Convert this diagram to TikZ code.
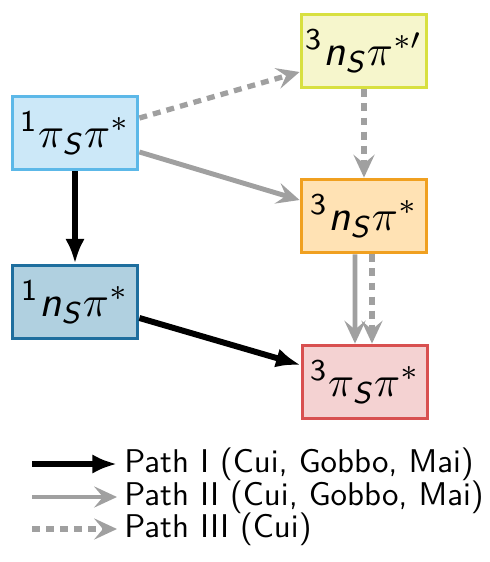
\documentclass[tikz,border=0pt]{standalone}
\usepackage{amsmath}
\usepackage{graphicx}
\usepackage{tikz}
\usetikzlibrary{arrows.meta, positioning}

\definecolor{bluelight}{HTML}{CCE8F8}
\definecolor{bluelightedge}{HTML}{5CB8E8}
\definecolor{bluedark}{HTML}{B0D0E0}
\definecolor{bluedarkedge}{HTML}{1E6E9E}
\definecolor{yellowfill}{HTML}{F6F6CC}
\definecolor{yellowedge}{HTML}{D8E040}
\definecolor{orangefill}{HTML}{FFE2B4}
\definecolor{orangeedge}{HTML}{F0A020}
\definecolor{redfill}{HTML}{F4D2D2}
\definecolor{rededge}{HTML}{D85050}
\definecolor{pathgray}{HTML}{A0A0A0}

\newcommand{\sfn}{\textsf{\textit{n}}}
\newcommand{\sfS}{\textsf{\textit{S}}}
\newcommand{\statelab}[1]{\scalebox{2.45}{$#1$}}
\newcommand{\legendlab}[1]{\scalebox{1.87}{\sffamily #1}}

\tikzset{
  state/.style={rectangle, draw, line width=2.2pt, minimum width=2.5cm, minimum height=1.46cm, inner sep=0pt},
  pathone/.style={-{Latex[length=14pt, width=11pt]}, line width=3.4pt, black},
  pathtwo/.style={-{Stealth[length=13pt, width=12pt, inset=5pt]}, line width=2.8pt, pathgray},
  paththree/.style={-{Stealth[length=13pt, width=12pt, inset=5pt]}, line width=3pt, pathgray, dash pattern=on 4.5pt off 3.5pt},
  legend/.style={anchor=west, inner sep=0pt}
}

\begin{document}
\begin{tikzpicture}[x=0.02cm, y=-0.02cm]
    \useasboundingbox (0,0) rectangle (490,562);
    % states
    \node[state, fill=bluelight, draw=bluelightedge] (spp) at (75,133) {\statelab{^{\textsf{1}}\pi_{\sfS}\pi^*}};
    \node[state, fill=bluedark, draw=bluedarkedge] (snp) at (75,302) {\statelab{^{\textsf{1}}\sfn_{\sfS}\pi^*}};
    \node[state, fill=yellowfill, draw=yellowedge] (tnpp) at (364,51) {\statelab{^{\textsf{3}}\sfn_{\sfS}\pi^{*\prime}}};
    \node[state, fill=orangefill, draw=orangeedge] (tnp) at (364,216) {\statelab{^{\textsf{3}}\sfn_{\sfS}\pi^*}};
    \node[state, fill=redfill, draw=rededge] (tpp) at (365,382) {\statelab{^{\textsf{3}}\pi_{\sfS}\pi^*}};
    % paths
    \draw[pathone] (spp) -- (snp);
    \draw[pathone] ([yshift=-0.32cm]snp.east) -- ([yshift=0.34cm]tpp.west);
    \draw[pathtwo] ([yshift=-0.38cm]spp.east) -- ([yshift=0.32cm]tnp.west);
    \draw[paththree] ([yshift=0.3cm]spp.east) -- ([yshift=-0.42cm]tnpp.west);
    \draw[paththree] (tnpp) -- (tnp);
    \draw[pathtwo] ([xshift=-0.18cm]tnp.south) -- ([xshift=-0.2cm]tpp.north);
    \draw[paththree] ([xshift=0.16cm]tnp.south) -- ([xshift=0.14cm]tpp.north);
    % legend
    \coordinate (l1) at (32,464);
    \coordinate (l2) at (32,497);
    \coordinate (l3) at (32,529);
    \coordinate (e1) at (117,464);
    \coordinate (e2) at (117,497);
    \coordinate (e3) at (117,529);
    \node[legend] (t1) at (124,464) {\legendlab{Path I (Cui, Gobbo, Mai)}};
    \node[legend] (t2) at (124,497) {\legendlab{Path II (Cui, Gobbo, Mai)}};
    \node[legend] (t3) at (124,529) {\legendlab{Path III (Cui)}};
    \draw[pathone] (l1) -- (e1);
    \draw[pathtwo] (l2) -- (e2);
    \draw[paththree] (l3) -- (e3);
\end{tikzpicture}
\end{document}
